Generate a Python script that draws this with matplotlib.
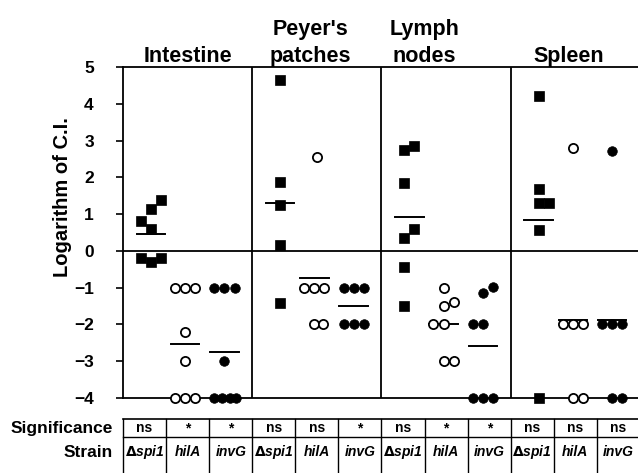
import numpy as np
import matplotlib.pyplot as plt

plt.rcParams['font.family'] = ['Liberation Sans', 'DejaVu Sans']
plt.rcParams['font.weight'] = 'bold'

tissues = ['Intestine', "Peyer's\npatches", 'Lymph\nnodes', 'Spleen']
strains = [r'$\Delta$spi1', 'hilA', 'invG']
significance = ['ns', '*', '*', 'ns', 'ns', '*', 'ns', '*', '*', 'ns', 'ns', 'ns']

# logarithm of C.I., one list per tissue
spi1_vals = [
    [0.80, 1.13, 1.39, 0.59, -0.20, -0.29, -0.20],
    [4.65, 1.88, 1.25, 0.16, -1.42],
    [2.75, 2.86, 1.85, 0.60, 0.36, -0.43, -1.49],
    [4.22, 1.67, 1.31, 1.31, 0.56, -4.0],
]
hila_vals = [
    [-1, -1, -1, -2.2, -3, -4, -4, -4],
    [2.56, -1, -1, -1, -2, -2],
    [-1, -1.49, -1.39, -2, -2, -3, -3],
    [2.80, -2, -2, -2, -4, -4],
]
invg_vals = [
    [-1, -1, -1, -3, -4, -4, -4, -4],
    [-1, -1, -1, -2, -2, -2],
    [-1.15, -0.98, -2, -2, -4, -4, -4],
    [2.72, -2, -2, -2, -4, -4],
]

# horizontal placement of overlapping points (layout only)
spi1_slots = [[-1, 0, 1, 0, -1, 0, 1], [0, 0, 0, 0, 0],
              [-0.5, 0.5, -0.5, 0.5, -0.5, -0.5, -0.5], [0, 0, 0, 1, 0, 0]]
hila_slots = [[-1, 0, 1, 0, 0, -1, 0, 1], [0.3, -1, 0, 1, 0, 0.9],
              [0, 0, 1, -1, 0, 0, 1], [0, -1, 0, 1, 0, 1]]
invg_slots = [[-1, 0, 1, 0, -1, -0.2, 0.5, 1.15], [-1, 0, 1, -1, 0, 1],
              [0, 1, -1, 0, -1, 0, 1], [0, -1, 0, 1, 0, 1]]

offsets = [0.215, 0.48, 0.785]
step = 0.078
half = 0.11

W, H = 638, 473
fig = plt.figure(figsize=(W / 100, H / 100), dpi=100)
ax = fig.add_axes([123 / W, (H - 398) / H, 517 / W, 331 / H])

styles = [dict(marker='s', ms=7.4, mfc='black', mec='black', mew=0.5),
          dict(marker='o', ms=6.6, mfc='white', mec='black', mew=1.3),
          dict(marker='o', ms=6.9, mfc='black', mec='black', mew=0.5)]

for s, (vals, slots) in enumerate([(spi1_vals, spi1_slots),
                                   (hila_vals, hila_slots),
                                   (invg_vals, invg_slots)]):
    for t in range(4):
        v = np.array(vals[t])
        xc = t + offsets[s]
        xs = xc + step * np.array(slots[t])
        ax.plot(xs, v, ls='none', zorder=4, clip_on=False, **styles[s])
        m = v.mean()
        ax.plot([xc - half, xc + half], [m, m], color='black', lw=1.4, zorder=3)

ax.axhline(0, color='black', lw=1.3, zorder=2)
for t in range(1, 4):
    ax.axvline(t, color='black', lw=1.3, zorder=2)

ax.set_xlim(0, 4)
ax.set_ylim(-4, 5)
ax.set_xticks([])
ax.set_yticks(range(-4, 6))
ax.tick_params(axis='y', length=5, width=1.2, pad=16, labelsize=12.5)
for sp in ax.spines.values():
    sp.set_linewidth(1.3)

title_x = [0.5, 1.45, 2.33, 3.45]
for t, name in enumerate(tissues):
    ax.text(title_x[t], 1.0, name, transform=ax.get_xaxis_transform(),
            ha='center', va='bottom', fontsize=15.5, fontweight='bold',
            linespacing=1.35)

fig.text(63 / W, 1 - 197 / H, 'Logarithm of C.I.', rotation=90,
         ha='center', va='center', fontsize=14.5, fontweight='bold')

# table below
tab = fig.add_axes([123 / W, 0, 517 / W, (H - 419) / H])
tab.set_xlim(0, 4)
tab.set_ylim(0, 1)
tab.axis('off')
mid = 1 - 18 / 54
tab.plot([0, 4], [1, 1], color='black', lw=1.2, clip_on=False)
tab.plot([0, 4], [mid, mid], color='black', lw=1.0, clip_on=False)
for k in range(13):
    tab.plot([k / 3, k / 3], [0, 1], color='black', lw=1.0, clip_on=False)
for k in range(12):
    xc = (k + 0.5) / 3
    tab.text(xc, 1 - 9 / 54, significance[k], ha='center', va='center',
             fontsize=10, fontweight='bold')
    tab.text(xc, 1 - 33 / 54, strains[k % 3], ha='center', va='center',
             fontsize=10, fontweight='bold', fontstyle='italic')
tab.text(-10 / 129, 1 - 9 / 54, 'Significance', ha='right', va='center',
         fontsize=12.5, fontweight='bold')
tab.text(-10 / 129, 1 - 33 / 54, 'Strain', ha='right', va='center',
         fontsize=12.5, fontweight='bold')

fig.savefig('out.png', dpi=100)
